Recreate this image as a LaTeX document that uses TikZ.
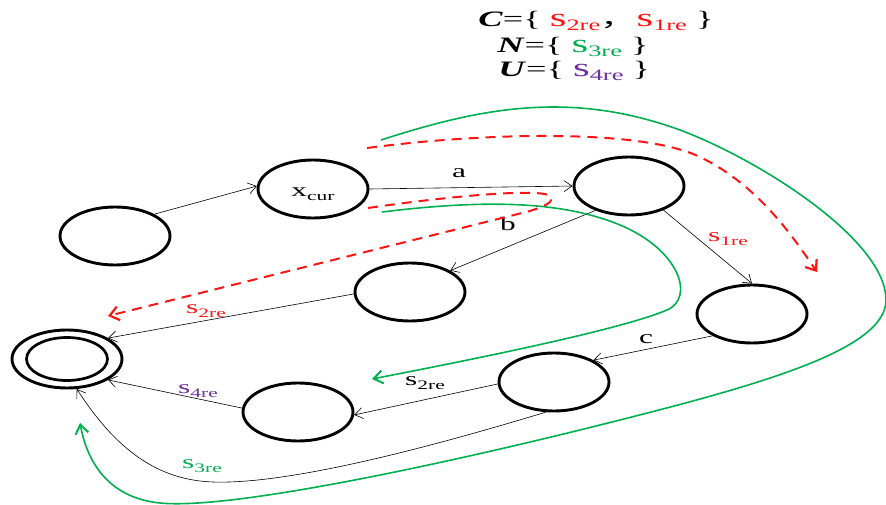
\documentclass[tikz,border=0pt]{standalone}
\usepackage{graphicx}
\usepackage{fontspec}
\setmainfont{Liberation Serif}
\newfontfamily\cjkfont{Noto Sans CJK SC}
\usetikzlibrary{shapes.geometric,arrows.meta}
\definecolor{myred}{RGB}{255,20,20}
\definecolor{mygreen}{RGB}{0,176,80}
\definecolor{mypurple}{RGB}{112,48,160}
\newcommand{\lsub}[1]{s\raisebox{-4pt}{\fontsize{13}{13}\selectfont #1}}
\newcommand{\tsub}[1]{{\fontsize{26}{26}\selectfont s}\raisebox{-4pt}{\fontsize{16}{16}\selectfont #1}}
\begin{document}
\begin{tikzpicture}[x=1pt,y=-1pt,
  state/.style={ellipse,draw,line width=2.9pt,minimum width=110pt,minimum height=58pt,inner sep=0pt},
  edge/.style={line width=0.6pt,-{Straight Barb[length=8pt,width=11pt]}},
  lab/.style={font=\fontsize{19}{19}\selectfont, xscale=1.65, anchor=base, inner sep=0pt},
  ttl/.style={font=\fontsize{22}{22}\selectfont, xscale=1.65, anchor=base west, inner sep=0pt},
  reddash/.style={myred, line width=2pt, dash pattern=on 10pt off 7pt, -{Straight Barb[length=9pt,width=14pt,line width=2.2pt]}},
  greencurve/.style={mygreen, line width=1.6pt, -{Straight Barb[length=9pt,width=13pt,line width=2pt]}}
]
\useasboundingbox (0,0) rectangle (886,505);

% title
\node[ttl] (t1) at (478,27) {\textbf{\textit{C}}=\{ \textcolor{myred}{\tsub{2re}}{\cjkfont ，}\textcolor{myred}{\tsub{1re}} \}};
\node[ttl] (t2) at (497,53) {\textbf{\textit{N}}=\{ \textcolor{mygreen}{\tsub{3re}} \}};
\node[ttl] (t3) at (498,77) {\textbf{\textit{U}}=\{ \textcolor{mypurple}{\tsub{4re}} \}};

% states
\node[state] (n0) at (115,236) {};
\node[state] (xcur) at (313,189) {\fontsize{19}{19}\selectfont\raisebox{-8pt}[0pt][0pt]{\scalebox{1.65}[1]{x\raisebox{-4pt}{\fontsize{13}{13}\selectfont cur}}}};
\node[state] (n2) at (629,186) {};
\node[state] (n3) at (410,292) {};
\node[state] (n4) at (752,314) {};
\node[state] (n5) at (554,382) {};
\node[state] (n6) at (298,412) {};
\node[state] (fin) at (67,359) {};
\node[ellipse,draw,line width=2.7pt,minimum width=81pt,minimum height=43pt,inner sep=0pt] (finin) at (fin) {};

% black edges
\draw[edge] (n0.29) -- (xcur.177);
\draw[edge] (xcur.east) -- (n2.west);
\draw[edge] (n2.216) -- (n3.28);
\draw[edge] (n2.325) -- (n4.north);
\draw[edge] (n3.182) -- (fin.27);
\draw[edge] (n4.209) -- (n5.29);
\draw[edge] (n5.182) -- (n6.357);
\draw[edge] (n6.176) -- (fin.333);
\draw[edge] (n5.255) .. controls (470,435) and (300,485) .. (213,482) .. controls (150,480) and (110,440) .. (fin.288);

% labels
\node[lab] (la) at (459,178) {a};
\node[lab] (lb) at (508,231) {b};
\node[lab] (lc) at (646,343) {c};
\node[lab,text=myred] (l1) at (728,241) {\lsub{1re}};
\node[lab,text=myred] (l2) at (206,313) {\lsub{2re}};
\node[lab] (l3) at (425,385) {\lsub{2re}};
\node[lab,text=mypurple] (l4) at (198,393) {\lsub{4re}};
\node[lab,text=mygreen] (l5) at (202,468) {\lsub{3re}};

% red dashed
\coordinate (r1s) at (367,148);
\coordinate (r1m) at (700,157);
\coordinate (r1e) at (817,272);
\draw[reddash] (r1s) .. controls (480,133) and (640,128) .. (r1m) .. controls (760,186) and (795,240) .. (r1e);
\coordinate (r2s) at (368,208);
\coordinate (r2h) at (550,196);
\coordinate (r2e) at (108,316);
\draw[reddash] (r2s) .. controls (450,196) and (540,188) .. (r2h) .. controls (555,202) and (545,206) .. (530,211) -- (r2e);

% green
\coordinate (g1s) at (381,140);
\coordinate (g1e) at (80,423);
\draw[greencurve] (g1s) .. controls (480,108) and (570,90) .. (680,130)
  .. controls (760,160) and (886,240) .. (886,300)
  .. controls (886,350) and (760,385) .. (600,425)
  .. controls (440,465) and (230,510) .. (160,503)
  .. controls (100,497) and (85,450) .. (g1e);
\coordinate (g2s) at (382,212);
\coordinate (g2e) at (372,379);
\draw[greencurve] (g2s) .. controls (480,200) and (560,200) .. (620,225)
  .. controls (680,250) and (695,298) .. (667,310)
  .. controls (620,330) and (470,360) .. (g2e);
\end{tikzpicture}
\end{document}
